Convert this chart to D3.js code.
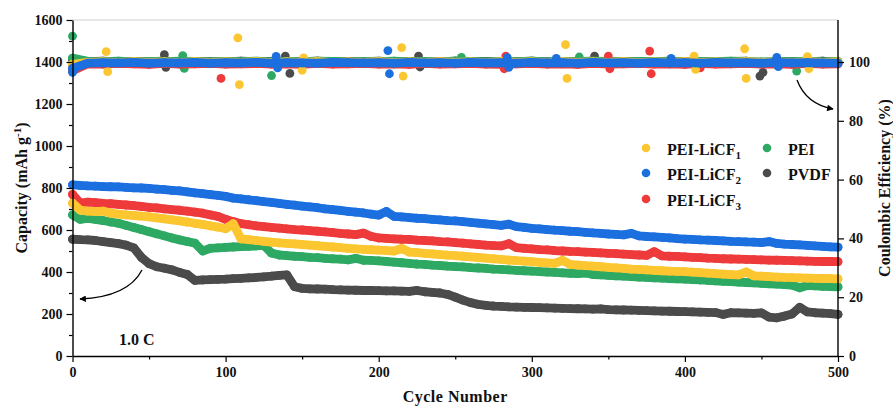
<!DOCTYPE html>
<html lang="en">
<head>
<meta charset="UTF-8">
<title>Capacity and Coulombic Efficiency</title>
<script src="https://cdn.jsdelivr.net/npm/d3@7"></script>
<style>
  body { margin: 0; background: #fff; }
  svg { font-family: "Liberation Serif", "Times New Roman", serif; font-weight: bold; }
</style>
</head>
<body>
<svg class="root" width="893" height="408"></svg>
<script>
// cycles for capacity (every 5) and coulombic efficiency (every 10)
const capCycles = d3.range(0, 501, 5);
const ceCycles = d3.range(0, 501, 10);

const seriesNames = ["PEI-LiCF1", "PEI-LiCF2", "PEI-LiCF3", "PEI", "PVDF"];

const capLiCF1 = [
  728, 695, 690, 688, 690, 680, 676, 672, 669, 666,
  663, 658, 653, 648, 643, 638, 632, 627, 620, 614,
  606, 630, 558, 554, 550, 546, 542, 539, 536, 534,
  531, 528, 525, 522, 519, 516, 513, 510, 508, 506,
  504, 502, 500, 512, 495, 492, 489, 486, 483, 480,
  478, 475, 472, 469, 466, 463, 460, 457, 454, 452,
  449, 446, 443, 441, 455, 436, 433, 430, 428, 425,
  422, 420, 417, 414, 412, 410, 408, 406, 404, 403,
  402, 399, 397, 395, 392, 390, 388, 386, 400, 382,
  380, 378, 376, 374, 373, 372, 371, 370, 369, 368,
  367];
const capLiCF2 = [
  815, 812, 810, 809, 807, 806, 805, 803, 801, 800,
  798, 795, 792, 789, 786, 782, 777, 773, 769, 765,
  760, 752, 748, 744, 740, 735, 731, 727, 722, 718,
  714, 710, 706, 701, 697, 693, 689, 685, 681, 676,
  671, 688, 665, 662, 659, 656, 654, 651, 648, 645,
  643, 640, 636, 633, 629, 626, 622, 628, 616, 612,
  608, 605, 602, 599, 597, 594, 592, 589, 586, 584,
  581, 579, 577, 584, 572, 569, 567, 565, 562, 559,
  557, 555, 553, 552, 550, 548, 546, 545, 543, 542,
  540, 545, 536, 533, 531, 529, 527, 524, 522, 520,
  518];
const capLiCF3 = [
  770, 728, 733, 730, 727, 725, 722, 719, 716, 712,
  708, 705, 701, 697, 694, 690, 685, 680, 672, 665,
  651, 640, 630, 625, 620, 616, 612, 609, 605, 602,
  600, 597, 594, 591, 588, 584, 581, 578, 585, 570,
  562, 560, 558, 556, 555, 552, 550, 548, 545, 543,
  540, 537, 534, 531, 528, 526, 524, 535, 516, 513,
  510, 507, 505, 502, 500, 498, 497, 495, 493, 491,
  489, 487, 485, 483, 481, 479, 497, 477, 475, 474,
  472, 470, 468, 466, 465, 463, 462, 461, 460, 459,
  458, 457, 456, 455, 454, 453, 452, 451, 450, 450,
  449];
const capPEI = [
  672, 651, 655, 650, 645, 638, 632, 622, 612, 602,
  592, 582, 572, 562, 553, 545, 537, 500, 513, 515,
  517, 519, 521, 522, 524, 527, 490, 481, 478, 475,
  473, 470, 468, 465, 463, 461, 458, 465, 456, 455,
  453, 450, 447, 444, 441, 438, 436, 433, 431, 428,
  426, 424, 421, 419, 417, 414, 412, 410, 408, 406,
  404, 402, 400, 398, 396, 394, 392, 395, 388, 386,
  384, 382, 380, 378, 376, 374, 372, 371, 369, 367,
  366, 364, 362, 360, 358, 356, 354, 352, 350, 348,
  346, 344, 342, 340, 338, 325, 336, 334, 332, 331,
  329];
const capPVDF = [
  556, 554, 553, 550, 545, 540, 535, 528, 515, 470,
  440, 425, 418, 410, 398, 388, 360, 362, 364, 365,
  366, 368, 370, 372, 374, 377, 380, 384, 386, 330,
  322, 320, 319, 318, 316, 315, 314, 313, 312, 312,
  311, 310, 310, 309, 308, 312, 306, 303, 300, 293,
  280, 266, 254, 246, 241, 238, 236, 234, 233, 232,
  231, 230, 229, 228, 227, 226, 225, 224, 223, 224,
  221, 220, 219, 218, 217, 216, 215, 214, 213, 212,
  211, 210, 209, 208, 207, 198, 206, 205, 204, 203,
  205, 185, 182, 190, 200, 232, 210, 206, 204, 202,
  198];

// coulombic efficiency (%), every 10 cycles
const ceLiCF1 = [
  99.2, 99.9, 100.0, 99.8, 100.1, 99.9, 100.0, 99.8, 100.1, 99.9,
  100.0, 99.9, 100.1, 99.8, 100.0, 99.9, 100.1, 99.8, 100.0, 99.9,
  100.1, 99.8, 100.0, 99.9, 100.1, 99.9, 100.0, 99.8, 100.1, 99.9,
  100.0, 99.8, 100.1, 99.9, 100.0, 99.9, 100.1, 99.8, 100.0, 99.9,
  100.1, 99.9, 100.0, 99.8, 100.1, 99.9, 100.0, 99.8, 100.1, 99.9,
  100.0];
const ceLiCF2 = [
  97.8, 99.6, 99.8, 99.7, 99.9, 99.6, 99.8, 99.7, 99.9, 99.6,
  99.8, 99.7, 99.9, 99.6, 99.8, 99.7, 99.6, 99.9, 99.8, 99.7,
  99.8, 99.6, 99.9, 99.7, 99.8, 99.6, 99.9, 99.7, 99.8, 99.6,
  99.9, 99.7, 99.8, 99.6, 99.9, 99.7, 99.8, 99.6, 99.9, 99.7,
  99.8, 99.6, 99.9, 99.7, 99.8, 99.6, 99.9, 99.7, 99.8, 99.7,
  99.6];
const ceLiCF3 = [
  97.0, 99.4, 99.3, 99.5, 99.4, 99.2, 99.5, 99.3, 99.4, 99.5,
  99.3, 99.4, 99.5, 99.3, 99.4, 99.2, 99.5, 99.3, 99.4, 99.5,
  99.3, 99.4, 99.2, 99.5, 99.3, 99.4, 99.5, 99.3, 99.2, 99.4,
  99.5, 99.3, 99.4, 99.2, 99.5, 99.3, 99.4, 99.5, 99.3, 99.4,
  99.2, 99.5, 99.3, 99.4, 99.5, 99.3, 99.4, 99.2, 99.5, 99.3,
  99.4];
const cePEI = [
  101.3, 100.2, 100.1, 100.3, 100.0, 100.2, 100.1, 100.3, 100.2, 100.0,
  100.2, 100.1, 100.3, 100.0, 100.2, 100.1, 100.3, 100.2, 100.0, 100.2,
  100.1, 100.3, 100.0, 100.2, 100.1, 100.3, 100.2, 100.0, 100.2, 100.1,
  100.3, 100.0, 100.2, 100.1, 100.3, 100.2, 100.0, 100.2, 100.1, 100.3,
  100.0, 100.2, 100.1, 100.3, 100.2, 100.0, 100.2, 100.1, 100.3, 100.0,
  100.2];
const cePVDF = [
  100.9, 100.1, 100.3, 100.0, 100.2, 100.1, 100.3, 100.0, 100.2, 100.1,
  100.0, 100.3, 100.1, 100.2, 100.0, 100.1, 100.3, 100.0, 100.2, 100.1,
  100.3, 100.0, 100.2, 100.1, 100.0, 100.3, 100.1, 100.2, 100.0, 100.1,
  100.3, 100.0, 100.2, 100.1, 100.3, 100.0, 100.2, 100.1, 100.0, 100.3,
  100.1, 100.2, 100.0, 100.1, 100.3, 99.4, 100.2, 100.1, 100.0, 100.3,
  99.8];

// scattered CE points off the main band: [cycle, CE %]
const ceOutLiCF1 = [[22, 103.5], [23, 96.7], [108, 108.2], [109, 92.3], [150, 97.2], [151, 101.4],
  [215, 104.9], [216, 95.2], [322, 105.9], [323, 94.4], [406, 102.0], [407, 97.5],
  [439, 104.5], [440, 94.4], [480, 101.8], [481, 97.7]];
const ceOutLiCF2 = [[0, 96.5], [133, 101.9], [134, 98.0], [206, 103.9], [207, 96.0],
  [284, 101.5], [285, 98.2], [316, 101.2], [391, 101.2], [460, 101.6], [461, 98.4]];
const ceOutLiCF3 = [[0, 97.0], [97, 94.4], [282, 97.7], [283, 102.0], [350, 102.0], [351, 97.7],
  [377, 103.7], [378, 96.0], [410, 98.0]];
const ceOutPEI = [[0, 108.8], [72, 102.2], [73, 97.8], [130, 95.4], [254, 101.6], [331, 101.7], [473, 96.9]];
const ceOutPVDF = [[60, 102.5], [61, 98.2], [139, 102.0], [142, 96.1], [226, 102.0], [227, 98.3],
  [341, 102.0], [449, 95.2], [451, 96.5]];

const leftTicks = [0, 200, 400, 600, 800, 1000, 1200, 1400, 1600];
const bottomTicks = [0, 100, 200, 300, 400, 500];
const rightTicks = [0, 20, 40, 60, 80, 100];

const colors = {
  "PEI-LiCF1": "#fcc630",
  "PEI-LiCF2": "#1b6fdf",
  "PEI-LiCF3": "#ee3a3b",
  "PEI": "#2ea963",
  "PVDF": "#4b4b4b"
};

const series = [
  { name: "PVDF", cap: capPVDF, ce: cePVDF, out: ceOutPVDF },
  { name: "PEI", cap: capPEI, ce: cePEI, out: ceOutPEI },
  { name: "PEI-LiCF3", cap: capLiCF3, ce: ceLiCF3, out: ceOutLiCF3 },
  { name: "PEI-LiCF1", cap: capLiCF1, ce: ceLiCF1, out: ceOutLiCF1 },
  { name: "PEI-LiCF2", cap: capLiCF2, ce: ceLiCF2, out: ceOutLiCF2 }
];

const width = 893, height = 408;
const margin = { top: 20, right: 55, bottom: 52, left: 72.5 };

const svg = d3.select(".root");

const x = d3.scaleLinear().domain([0, 500]).range([margin.left, width - margin.right]);
const y = d3.scaleLinear().domain([0, 1600]).range([height - margin.bottom, margin.top]);
// CE 100 % sits level with 1400 mAh/g
const yR = d3.scaleLinear().domain([0, 1600 * 100 / 1400]).range([height - margin.bottom, margin.top]);

const r = 4.4;
const fmt = d3.format("d");

// top frame line (light)
svg.append("line")
  .attr("x1", x(0)).attr("x2", x(500))
  .attr("y1", margin.top).attr("y2", margin.top)
  .attr("stroke", "#cfcfcf").attr("stroke-width", 1);

const plot = svg.append("g");

// capacity bands
series.forEach(s => {
  const pts = s.cap.map((v, i) => [capCycles[i], v]);
  const g = plot.append("g").attr("fill", colors[s.name]);
  g.append("path")
    .datum(pts)
    .attr("fill", "none")
    .attr("stroke", colors[s.name])
    .attr("stroke-width", 2 * r)
    .attr("stroke-linejoin", "round")
    .attr("stroke-linecap", "round")
    .attr("d", d3.line().x(d => x(d[0])).y(d => y(d[1])));
  g.selectAll("circle")
    .data(pts)
    .join("circle")
    .attr("cx", d => x(d[0]))
    .attr("cy", d => y(d[1]))
    .attr("r", r);
});

// coulombic efficiency bands
series.forEach(s => {
  const pts = s.ce.map((v, i) => [ceCycles[i], v]);
  const g = plot.append("g").attr("fill", colors[s.name]);
  g.append("path")
    .datum(pts)
    .attr("fill", "none")
    .attr("stroke", colors[s.name])
    .attr("stroke-width", 2 * r)
    .attr("stroke-linejoin", "round")
    .attr("stroke-linecap", "round")
    .attr("d", d3.line().x(d => x(d[0])).y(d => yR(d[1])));
  g.selectAll("circle.b")
    .data(pts.concat(s.out))
    .join("circle")
    .attr("class", "b")
    .attr("cx", d => x(d[0]))
    .attr("cy", d => yR(d[1]))
    .attr("r", r);
});

// axes
const styleAxis = g => {
  g.select(".domain").attr("stroke", "#000").attr("stroke-width", 1.4);
  g.selectAll(".tick line").attr("stroke", "#000").attr("stroke-width", 1.2);
  g.selectAll(".tick text")
    .attr("fill", "#111")
    .style("font-size", "14px")
    .style("font-weight", "bold")
    .style("font-family", "'Liberation Serif', serif");
};

svg.append("g")
  .attr("transform", `translate(${x(0)},0)`)
  .call(d3.axisLeft(y).tickValues(leftTicks.slice(1).map(v => v - 100)).tickSize(3.5).tickFormat(""))
  .call(g => g.select(".domain").remove())
  .call(styleAxis);
svg.append("g")
  .attr("transform", `translate(${x(0)},0)`)
  .call(d3.axisLeft(y).tickValues(leftTicks).tickFormat(fmt).tickSize(6).tickSizeOuter(0).tickPadding(4))
  .call(styleAxis);

svg.append("g")
  .attr("transform", `translate(0,${y(0)})`)
  .call(d3.axisBottom(x).tickValues(bottomTicks.slice(1).map(v => v - 50)).tickSize(3.5).tickFormat(""))
  .call(g => g.select(".domain").remove())
  .call(styleAxis);
svg.append("g")
  .attr("transform", `translate(0,${y(0)})`)
  .call(d3.axisBottom(x).tickValues(bottomTicks).tickFormat(fmt).tickSize(6).tickSizeOuter(0).tickPadding(5))
  .call(styleAxis);

svg.append("g")
  .attr("transform", `translate(${x(500)},0)`)
  .call(d3.axisRight(yR).tickValues(rightTicks).tickFormat(fmt).tickSize(6).tickSizeOuter(0).tickPadding(5))
  .call(g => g.select(".domain").attr("d", `M0,${yR(0)}V${margin.top}`))
  .call(styleAxis);

// axis titles
const yMid = (y(0) + y(1600)) / 2;
const capTitle = svg.append("text")
  .attr("transform", `translate(27,${yMid}) rotate(-90)`)
  .attr("text-anchor", "middle")
  .style("font-size", "16px")
  .attr("fill", "#111");
capTitle.append("tspan").text("Capacity (mAh g");
capTitle.append("tspan").attr("dy", -6).style("font-size", "11px").text("-1");
capTitle.append("tspan").attr("dy", 6).text(")");

svg.append("text")
  .attr("transform", `translate(890,${yMid}) rotate(-90)`)
  .attr("text-anchor", "middle")
  .style("font-size", "16px")
  .attr("fill", "#111")
  .text("Coulombic Efficiency (%)");

svg.append("text")
  .attr("x", x(250))
  .attr("y", 402)
  .attr("text-anchor", "middle")
  .style("font-size", "16px")
  .style("letter-spacing", "0.5px")
  .attr("fill", "#111")
  .text("Cycle Number");

svg.append("text")
  .attr("x", 119)
  .attr("y", 345)
  .style("font-size", "16px")
  .attr("fill", "#111")
  .text("1.0 C");

// curved arrows pointing at the axes
svg.append("defs").append("marker")
  .attr("id", "head")
  .attr("viewBox", "0 0 10 10")
  .attr("refX", 9).attr("refY", 5)
  .attr("markerWidth", 7).attr("markerHeight", 5)
  .attr("orient", "auto")
  .append("path").attr("d", "M0,0L10,5L0,10z").attr("fill", "#000");

svg.append("path")
  .attr("d", "M142,270 Q128,297 80,299")
  .attr("fill", "none").attr("stroke", "#000").attr("stroke-width", 1.3)
  .attr("marker-end", "url(#head)");
svg.append("path")
  .attr("d", "M797,80 Q806,104 833,109")
  .attr("fill", "none").attr("stroke", "#000").attr("stroke-width", 1.3)
  .attr("marker-end", "url(#head)");

// legend
const legendItems = [
  { name: "PEI-LiCF1", base: "PEI-LiCF", sub: "1", cx: 646, cy: 148 },
  { name: "PEI-LiCF2", base: "PEI-LiCF", sub: "2", cx: 646, cy: 173 },
  { name: "PEI-LiCF3", base: "PEI-LiCF", sub: "3", cx: 646, cy: 199 },
  { name: "PEI", base: "PEI", sub: "", cx: 767, cy: 148 },
  { name: "PVDF", base: "PVDF", sub: "", cx: 767, cy: 173 }
];
const legend = svg.append("g");
legendItems.forEach(d => {
  legend.append("circle")
    .attr("cx", d.cx).attr("cy", d.cy).attr("r", 4.3)
    .attr("fill", colors[d.name]);
  const t = legend.append("text")
    .attr("x", d.cx + 21)
    .attr("y", d.cy + 7)
    .style("font-size", "16px")
    .attr("fill", "#111");
  t.append("tspan").text(d.base);
  if (d.sub) t.append("tspan").attr("dy", 4).style("font-size", "11px").text(d.sub);
});
</script>
</body>
</html>
